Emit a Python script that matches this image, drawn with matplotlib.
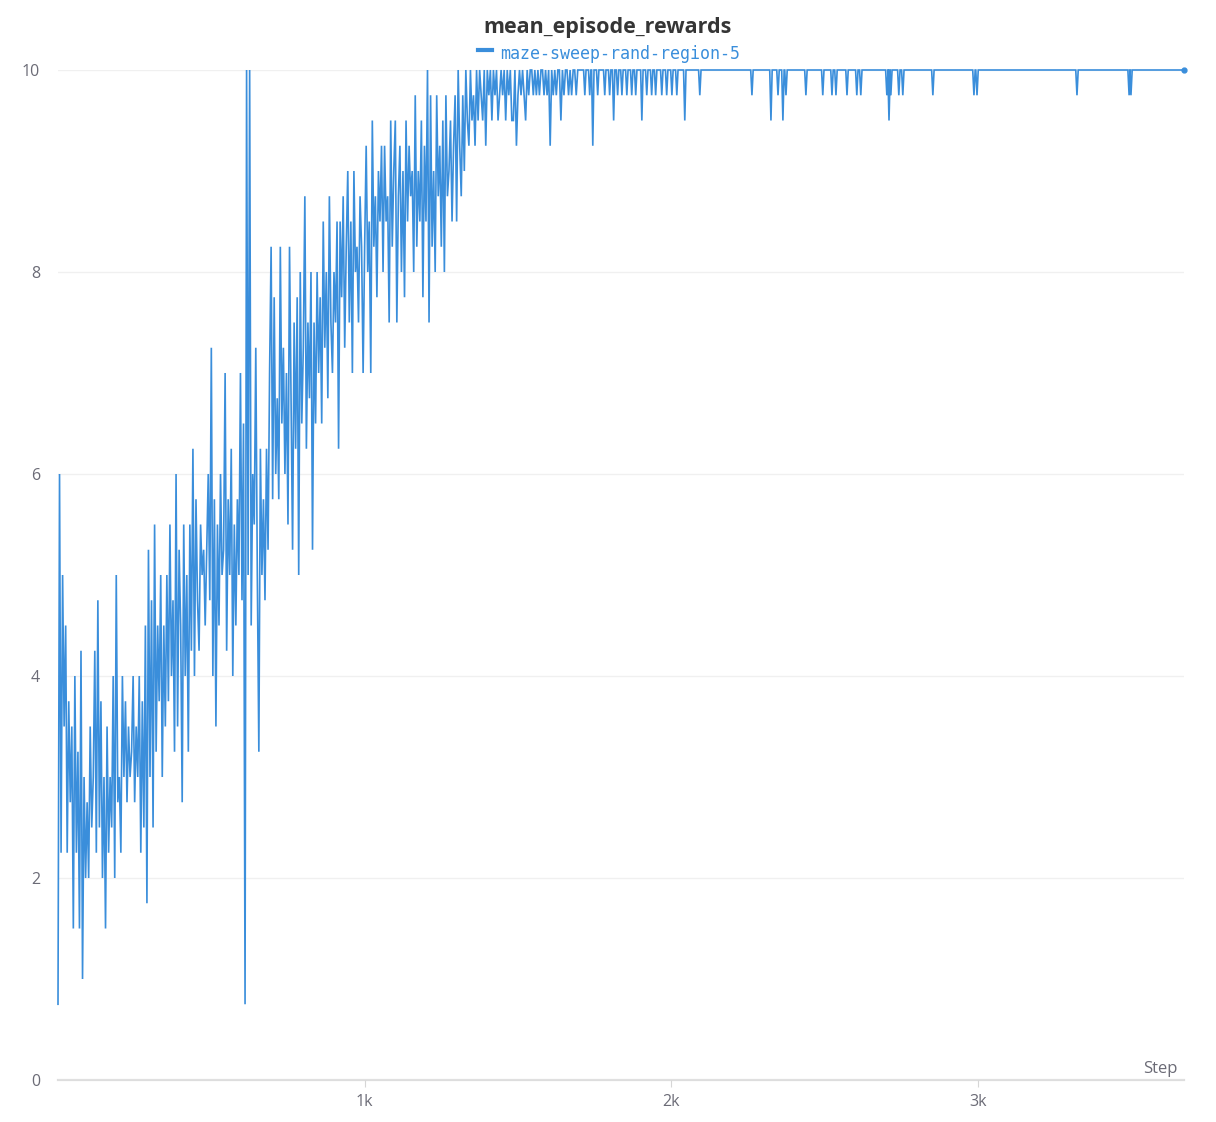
import numpy as np
from matplotlib import pyplot as plt

# mean reward logged every 5 steps during the noisy phase
stepInterval = 5
lstNoisy = [
    0.75, 6.0, 2.25, 5.0, 3.5, 4.5, 2.25, 3.75, 2.75, 3.5, 1.5, 4.0, 2.25, 3.25, 1.5, 4.25, 1.0, 3.0, 2.0, 2.75,
    2.0, 3.5, 2.5, 3.0, 4.25, 2.25, 4.75, 2.5, 3.75, 2.0, 3.0, 1.5, 3.5, 2.25, 3.0, 2.5, 4.0, 2.0, 5.0, 2.75,
    3.0, 2.25, 4.0, 3.0, 3.75, 2.75, 3.5, 3.0, 3.25, 4.0, 2.75, 3.5, 3.0, 4.0, 2.25, 3.75, 2.5, 4.5, 1.75, 5.25,
    3.0, 4.75, 2.5, 5.5, 3.25, 4.5, 3.75, 5.0, 3.0, 4.5, 3.5, 5.0, 3.75, 5.5, 4.0, 4.75, 3.25, 6.0, 3.5, 5.25,
    4.5, 2.75, 5.5, 4.0, 5.0, 3.25, 5.5, 4.25, 6.25, 4.0, 5.75, 4.75, 4.25, 5.5, 5.0, 5.25, 4.5, 5.25, 6.0, 4.75,
    7.25, 4.0, 5.75, 3.5, 5.5, 4.5, 6.0, 5.0, 5.25, 7.0, 4.25, 5.75, 5.0, 6.25, 4.0, 5.5, 4.5, 5.75, 5.0, 7.0,
    4.75, 6.5, 0.75, 10.0, 5.0, 10.0, 4.5, 6.0, 5.5, 7.25, 5.0, 3.25, 6.25, 5.0, 5.75, 4.75, 6.25, 5.25, 7.0, 8.25,
    5.75, 7.75, 6.0, 6.75, 5.75, 8.25, 6.5, 7.25, 6.0, 7.0, 5.5, 8.25, 6.75, 5.25, 7.5, 6.25, 7.75, 5.0, 8.0, 6.5,
    7.25, 8.75, 6.25, 7.5, 6.75, 8.0, 5.25, 7.5, 6.5, 8.0, 7.0, 7.75, 6.5, 8.5, 7.25, 8.0, 6.75, 8.75, 7.5, 7.0,
    8.0, 7.5, 8.5, 6.25, 8.5, 7.75, 8.75, 7.25, 8.25, 9.0, 7.5, 8.5, 7.0, 9.0, 8.0, 8.25, 7.5, 8.75, 8.25, 7.0,
    8.25, 9.25, 8.0, 8.5, 7.0, 9.5, 8.25, 8.75, 7.75, 9.0, 8.5, 9.25, 8.0, 9.25, 8.5, 8.75, 7.5, 9.5, 8.25, 9.0,
    9.5, 7.5, 8.75, 9.25, 8.0, 9.0, 7.75, 9.5, 8.5, 9.25, 8.75, 9.0, 8.0, 9.75, 8.25, 9.0, 8.5, 9.5, 7.75, 9.25,
    8.5, 10.0, 7.5, 9.75, 8.25, 9.0, 8.0, 9.75, 8.75, 9.25, 8.25, 9.5, 8.0, 9.75, 8.75, 9.0, 9.5, 8.5, 9.25, 9.75,
    8.5, 10.0, 9.25, 8.75, 9.75, 9.0, 10.0, 9.5, 9.25, 10.0, 9.5, 9.75, 9.25, 10.0, 9.5, 10.0, 9.75, 9.5, 10.0, 9.25,
    10.0, 9.75, 10.0, 9.5, 10.0, 9.75, 10.0, 9.5, 9.75, 10.0, 9.75, 10.0, 9.5, 10.0, 9.75, 10.0, 9.5, 9.5, 10.0, 9.25,
    9.75, 10.0, 9.75, 10.0, 9.75, 9.5, 10.0, 9.75, 10.0, 10.0, 9.75, 10.0, 9.75, 10.0, 9.75, 10.0, 10.0, 9.75, 10.0, 9.75,
    10.0, 9.25, 10.0, 9.75, 10.0, 9.75, 10.0, 10.0, 9.5, 10.0, 9.75, 10.0, 10.0, 9.75, 10.0, 9.75, 10.0, 10.0, 9.75, 10.0,
]

# after ~1.7k steps the reward sits at 10 with occasional dips
nPlateau = 10.0
lstDipSteps = [1718, 1734, 1744, 1760, 1783, 1799, 1812, 1825, 1839, 1855, 1871, 1884, 1904, 1920, 1936,
               1949, 1969, 1985, 2002, 2018, 2044, 2093, 2263, 2325, 2348, 2364, 2374, 2439, 2494, 2524,
               2537, 2573, 2605, 2618, 2703, 2710, 2716, 2742, 2755, 2853, 2987, 2997, 3323, 3493, 3499]
lstDipVals = [9.75, 9.75, 9.25, 9.75, 9.75, 9.75, 9.5, 9.75, 9.75, 9.75, 9.75, 9.75, 9.5, 9.75, 9.75,
              9.75, 9.75, 9.75, 9.75, 9.75, 9.5, 9.75, 9.75, 9.5, 9.75, 9.5, 9.75, 9.75, 9.75, 9.75,
              9.75, 9.75, 9.75, 9.75, 9.75, 9.5, 9.75, 9.75, 9.75, 9.75, 9.75, 9.75, 9.75, 9.75, 9.75]
nLastStep = 3672

yTicks = [0, 2, 4, 6, 8, 10]
xTicks = [1000, 2000, 3000]
xTickLabels = ['1k', '2k', '3k']

cBlue = '#3a8edb'
cGray = '#6b6b76'

# build the logged series
lstSteps = [i * stepInterval for i in range(len(lstNoisy))]
lstVals = list(lstNoisy)
for s, v in zip(lstDipSteps, lstDipVals):
    lstSteps += [s - 4, s, s + 4]
    lstVals += [nPlateau, v, nPlateau]
lstSteps.append(nLastStep)
lstVals.append(nPlateau)

plt.rcParams['font.family'] = ['Open Sans', 'DejaVu Sans']

fig = plt.figure(figsize=(12.16, 11.22), dpi=100)
ax = fig.add_axes([58 / 1216, 42 / 1122, 1126 / 1216, 1010 / 1122])

ax.plot(lstSteps, lstVals, color=cBlue, linewidth=1.2, solid_joinstyle='miter', clip_on=False)
ax.plot([lstSteps[-1]], [lstVals[-1]], 'o', color=cBlue, markersize=3.5, clip_on=False)

ax.set_xlim(0, nLastStep)
ax.set_ylim(0, 10)
ax.set_yticks(yTicks)
ax.set_yticklabels([str(t) for t in yTicks])
ax.set_xticks(xTicks)
ax.set_xticklabels(xTickLabels)
ax.tick_params(axis='y', length=0, pad=13, labelsize=11.5, labelcolor=cGray)
ax.tick_params(axis='x', length=5, width=0.8, color='#d6d6d6', pad=5, labelsize=11.5, labelcolor=cGray)
ax.grid(axis='y', color='#f0f0f0', linewidth=1)
ax.set_axisbelow(True)
for side in ['top', 'right', 'left']:
    ax.spines[side].set_visible(False)
ax.spines['bottom'].set_color('#dddddd')
ax.spines['bottom'].set_linewidth(1.6)
ax.spines['bottom'].set_zorder(0)

fig.text(0.5, 1 - 27 / 1122, 'mean_episode_rewards', ha='center', va='center',
         fontsize=15.5, fontweight='bold', color='#353535')
fig.add_artist(plt.Line2D([478 / 1216, 492 / 1216], [1 - 50 / 1122, 1 - 50 / 1122],
                          color=cBlue, linewidth=3))
fig.text(500 / 1216, 1 - 54 / 1122, 'maze-sweep-rand-region-5', ha='left', va='center',
         fontsize=12, color=cBlue, family=['DejaVu Sans Mono'])
fig.text(1178 / 1216, 1 - 1069 / 1122, 'Step', ha='right', va='center',
         fontsize=12, color=cGray)

fig.savefig('out.png', dpi=100)
